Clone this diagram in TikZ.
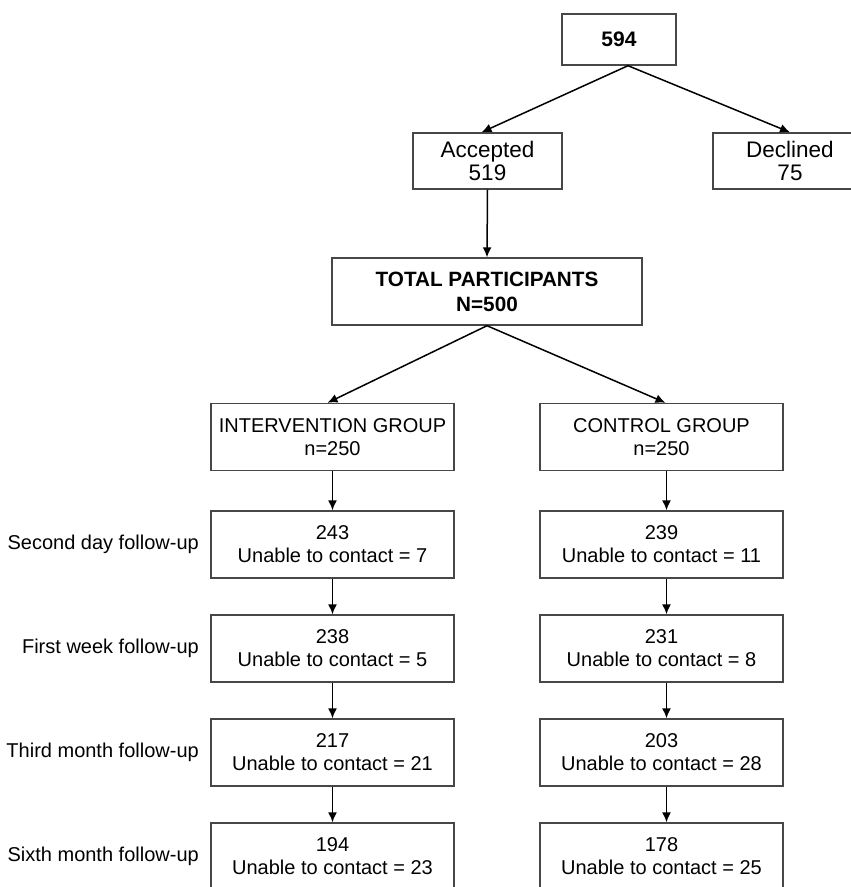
\documentclass[tikz,border=0pt]{standalone}
\usepackage{fontspec}
\setmainfont{Liberation Sans}
\usetikzlibrary{arrows.meta}
\begin{document}
\begin{tikzpicture}[x=1pt,y=-1pt,
  box/.style={draw=black!72, line width=1.4pt, inner sep=0pt, align=center,
    font=\fontsize{20}{23}\selectfont},
  wide/.style={minimum width=243pt, minimum height=67pt},
  arr/.style={line width=1.5pt, -{Latex[length=10pt,width=9pt]}},
  lbl/.style={anchor=east, inner sep=0pt, font=\fontsize{20}{23}\selectfont}]
\useasboundingbox (0,0) rectangle (851,887);
\clip (0,0) rectangle (851,887);

\node[box, minimum width=114pt, minimum height=51pt,
  font=\bfseries\fontsize{21}{24}\selectfont] (top) at (619,39.5) {594};
\node[box, minimum width=149pt, minimum height=56pt,
  font=\fontsize{22.5}{23.5}\selectfont] (acc) at (487.5,161) {Accepted\\519};
\node[box, minimum width=149pt, minimum height=56pt,
  font=\fontsize{22.5}{23.5}\selectfont] (dec) at (787.5,161) {\hspace*{5pt}Declined\\\hspace*{5pt}75};
\node[box, minimum width=310pt, minimum height=67pt,
  font=\bfseries\fontsize{20.7}{25}\selectfont] (tot) at (487,291.5) {TOTAL PARTICIPANTS\\N=500};

\node[box, wide] (int) at (332.5,437) {INTERVENTION GROUP\\n=250};
\node[box, wide] (ctl) at (661.5,437) {CONTROL GROUP\\n=250};

\node[box, wide] (l1) at (332.5,544.5) {243\\Unable to contact = 7};
\node[box, wide] (l2) at (332.5,648.5) {238\\Unable to contact = 5};
\node[box, wide] (l3) at (332.5,752.5) {217\\Unable to contact = 21};
\node[box, wide] (l4) at (332.5,856.5) {194\\Unable to contact = 23};

\node[box, wide] (r1) at (661.5,544.5) {239\\Unable to contact = 11};
\node[box, wide] (r2) at (661.5,648.5) {231\\Unable to contact = 8};
\node[box, wide] (r3) at (661.5,752.5) {203\\Unable to contact = 28};
\node[box, wide] (r4) at (661.5,856.5) {178\\Unable to contact = 25};

\node[lbl] (t1) at (199,544.5) {Second day follow-up};
\node[lbl] (t2) at (199,648.5) {First week follow-up};
\node[lbl] (t3) at (199,752.5) {Third month follow-up};
\node[lbl] (t4) at (199,856.5) {Sixth month follow-up};

\draw[arr] ([xshift=9pt]top.south) -- ([xshift=-6pt]acc.north);
\draw[arr] ([xshift=9pt]top.south) -- ([xshift=2.5pt]dec.north);
\draw[arr] (acc.south) -- (tot.north);
\draw[arr] (tot.south) -- ([xshift=-5pt]int.north);
\draw[arr] (tot.south) -- ([xshift=4pt]ctl.north);

\draw[arr] (int.south) -- (l1.north);
\draw[arr] (l1.south) -- (l2.north);
\draw[arr] (l2.south) -- (l3.north);
\draw[arr] (l3.south) -- (l4.north);

\draw[arr] ([xshift=5pt]ctl.south) -- ([xshift=5pt]r1.north);
\draw[arr] ([xshift=5pt]r1.south) -- ([xshift=5pt]r2.north);
\draw[arr] ([xshift=5pt]r2.south) -- ([xshift=5pt]r3.north);
\draw[arr] ([xshift=5pt]r3.south) -- ([xshift=5pt]r4.north);
\end{tikzpicture}
\end{document}
